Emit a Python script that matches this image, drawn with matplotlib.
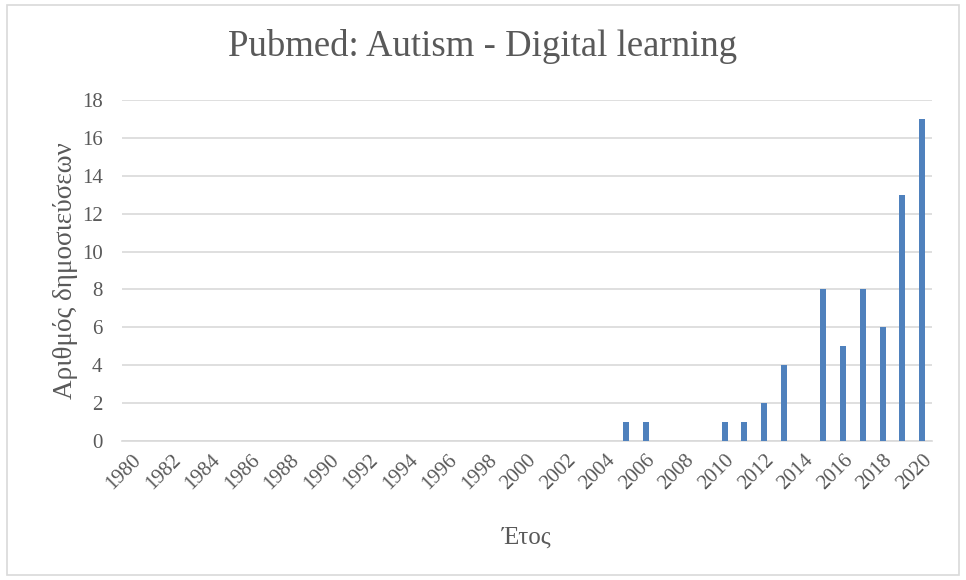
import matplotlib.pyplot as plt
import numpy as np
from matplotlib.patches import Rectangle

# data
years = list(range(1980, 2021))
counts_by_year = {2005: 1, 2006: 1, 2010: 1, 2011: 1, 2012: 2, 2013: 4,
                  2015: 8, 2016: 5, 2017: 8, 2018: 6, 2019: 13, 2020: 17}
counts = [counts_by_year.get(y, 0) for y in years]
y_ticks = list(range(0, 20, 2))

title = "Pubmed: Autism - Digital learning"
x_label = "Έτος"
y_label = "Αριθμός δημοσιεύσεων"

plt.rcParams["font.family"] = ["Liberation Serif", "DejaVu Serif"]
text_color = "#595959"
bar_color = "#4f81bd"

fig = plt.figure(figsize=(9.66, 5.8), dpi=100)
ax = fig.add_axes([122 / 966, 1 - 441 / 580, 810 / 966, 341 / 580])

x = np.arange(len(years))
ax.bar(x, counts, width=0.3, color=bar_color, zorder=3)

ax.set_xlim(-0.5, len(years) - 0.5)
ax.set_ylim(0, 18)
ax.set_yticks(y_ticks)
ax.yaxis.grid(True, color="#d9d9d9", linewidth=1.2, zorder=0)
ax.tick_params(axis="y", length=0, pad=14, labelsize=15, labelcolor=text_color)
ax.tick_params(axis="x", length=0, pad=7, labelsize=15, labelcolor=text_color)

ax.set_xticks(x[::2])
ax.set_xticklabels([str(y) for y in years[::2]], rotation=45, ha="right",
                   rotation_mode="anchor")
for s in ["top", "right", "left"]:
    ax.spines[s].set_visible(False)
ax.spines["bottom"].set_color("#d9d9d9")
ax.spines["bottom"].set_linewidth(1.2)

# title is centred on the whole chart, not the plot area
fig.text(0.5, 1 - 47 / 580, title, fontsize=26.5, color=text_color,
         ha="center", va="center")
ax.set_xlabel(x_label, fontsize=18, color=text_color, labelpad=24)
ax.set_ylabel(y_label, fontsize=19.5, color=text_color, labelpad=3)

# outer chart border
fig.patches.append(Rectangle((7 / 966, 5 / 580), 952 / 966, 570 / 580,
                             transform=fig.transFigure, fill=False,
                             edgecolor="#d9d9d9", linewidth=1.2))

fig.savefig("out.png", dpi=100)
